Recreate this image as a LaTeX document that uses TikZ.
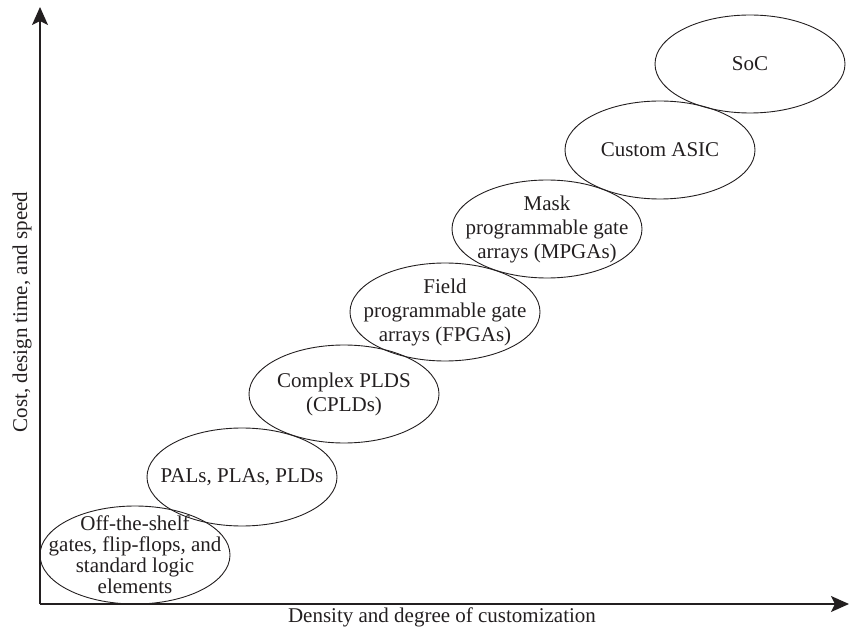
\documentclass[tikz,border=0pt]{standalone}
\usepackage{fontspec}
\setmainfont{Liberation Serif}
\usetikzlibrary{arrows.meta,positioning,shapes.geometric}
\definecolor{tinta}{HTML}{231F20}

\begin{document}
\begin{tikzpicture}[x=1pt, y=-1pt,
  font=\fontsize{21}{24}\selectfont,
  clase/.style={align=center, text=tinta, inner sep=0pt},
  borde/.style={draw=tinta, line width=0.9pt},
  rotulo/.style={text=tinta, inner sep=0pt},
  eje/.style={-{Stealth[length=18pt, width=16pt, inset=4pt]}, tinta, line width=1.4pt}]
\useasboundingbox (0,0) rectangle (849,628);
% familias de circuitos
\node[clase, font=\fontsize{21}{21}\selectfont] (discretos) at (135,555) {Off-the-shelf\\gates, flip-flops, and\\standard logic\\elements};
\node[clase] (pal) at (242,477) {PALs, PLAs, PLDs};
\node[clase] (cpld) at (344,394) {Complex PLDS\\(CPLDs)};
\node[clase] (fpga) at (445,312) {Field\\programmable gate\\arrays (FPGAs)};
\node[clase] (mpga) at (547,229) {Mask\\programmable gate\\arrays (MPGAs)};
\node[clase] (asic) at (660,150) {Custom ASIC};
\node[clase] (soc) at (750,64) {SoC};
\foreach \n in {discretos,pal,cpld,fpga,mpga,asic,soc}
  \draw[borde] (\n.center) ellipse [x radius=95, y radius=49];
% ejes
\coordinate (origen) at (40,604);
\coordinate (ytope) at (40,7);
\coordinate (xtope) at (849,604);
\draw[eje] (origen) -- (ytope);
\draw[eje] (origen) -- (xtope);
\node[rotulo, rotate=90] (ylab) at (22,312) {Cost, design time, and speed};
\node[rotulo] (xlab) at (442,617) {Density and degree of customization};
\end{tikzpicture}
\end{document}
